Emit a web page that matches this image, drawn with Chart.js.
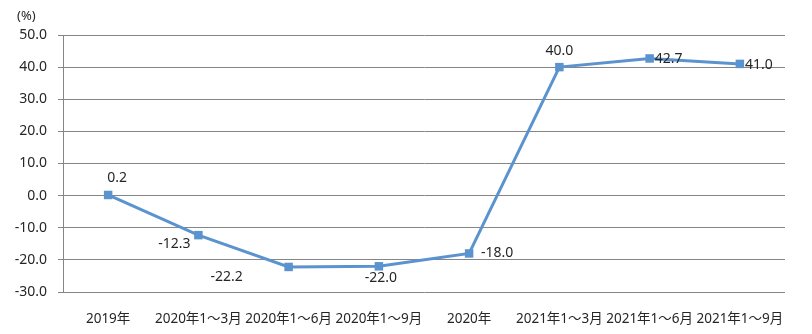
<!DOCTYPE html>
<html>
<head>
<meta charset="utf-8">
<script src="https://cdn.jsdelivr.net/npm/chart.js@4"></script>
<style>
  html, body { margin: 0; padding: 0; background: #fff; }
  #wrap { width: 812px; height: 334px; position: relative; }
</style>
</head>
<body>
<div id="wrap"><canvas id="growthChart"></canvas></div>
<script>
const categories = ['2019年', '2020年1～3月', '2020年1～6月', '2020年1～9月', '2020年', '2021年1～3月', '2021年1～6月', '2021年1～9月'];
const growth = [0.2, -12.3, -22.2, -22.0, -18.0, 40.0, 42.7, 41.0];
const yTicks = [-30, -20, -10, 0, 10, 20, 30, 40, 50];

// where each value label sits relative to its point (dx, dy in px)
const labelOffsets = [[9, -17], [-24, 9], [-62, 10], [2, 12], [28, 0], [0, -16], [19, 1], [19, 1]];

const FONT = "'Noto Sans', 'Noto Sans CJK SC', sans-serif";
const TEXT = '#262626';
const LINE = '#5b93cf';

const valueLabels = {
    id: 'valueLabels',
    afterDatasetsDraw(chart) {
        const ctx = chart.ctx;
        const meta = chart.getDatasetMeta(0);
        ctx.save();
        ctx.font = '14px ' + FONT;
        ctx.fillStyle = TEXT;
        ctx.textAlign = 'center';
        ctx.textBaseline = 'middle';
        meta.data.forEach((pt, i) => {
            const off = labelOffsets[i];
            ctx.fillText(growth[i].toFixed(1), pt.x + off[0], pt.y + off[1]);
        });
        // unit label above the y axis
        ctx.font = '13px ' + FONT;
        ctx.textAlign = 'left';
        ctx.fillText('(%)', 17, 16);
        ctx.restore();
    }
};

const ctx = document.getElementById('growthChart').getContext('2d');
new Chart(ctx, {
    type: 'line',
    data: {
        labels: categories,
        datasets: [{
            data: growth,
            borderColor: LINE,
            borderWidth: 3,
            backgroundColor: LINE,
            pointStyle: 'rect',
            pointRadius: 6,
            pointBorderWidth: 0,
            tension: 0
        }]
    },
    options: {
        responsive: true,
        maintainAspectRatio: false,
        animation: false,
        layout: { padding: { top: 35, right: 27, left: 0, bottom: 0 } },
        plugins: {
            legend: { display: false },
            tooltip: { enabled: false }
        },
        scales: {
            x: {
                offset: true,
                grid: { display: false, offset: true },
                border: { display: false },
                ticks: {
                    autoSkip: false,
                    maxRotation: 0,
                    minRotation: 0,
                    padding: 11,
                    color: TEXT,
                    font: { family: FONT, size: 13.5 }
                },
                afterFit(scale) { scale.height = 42; }
            },
            y: {
                min: -30,
                max: 50,
                afterBuildTicks(scale) { scale.ticks = yTicks.map(v => ({ value: v })); },
                grid: { color: '#858585', lineWidth: 1, tickLength: 5 },
                border: { color: '#858585' },
                ticks: {
                    padding: 11,
                    color: TEXT,
                    font: { family: FONT, size: 14 },
                    callback: v => v.toFixed(1)
                },
                afterFit(scale) { scale.width = 63; }
            }
        }
    },
    plugins: [valueLabels]
});
</script>
</body>
</html>
